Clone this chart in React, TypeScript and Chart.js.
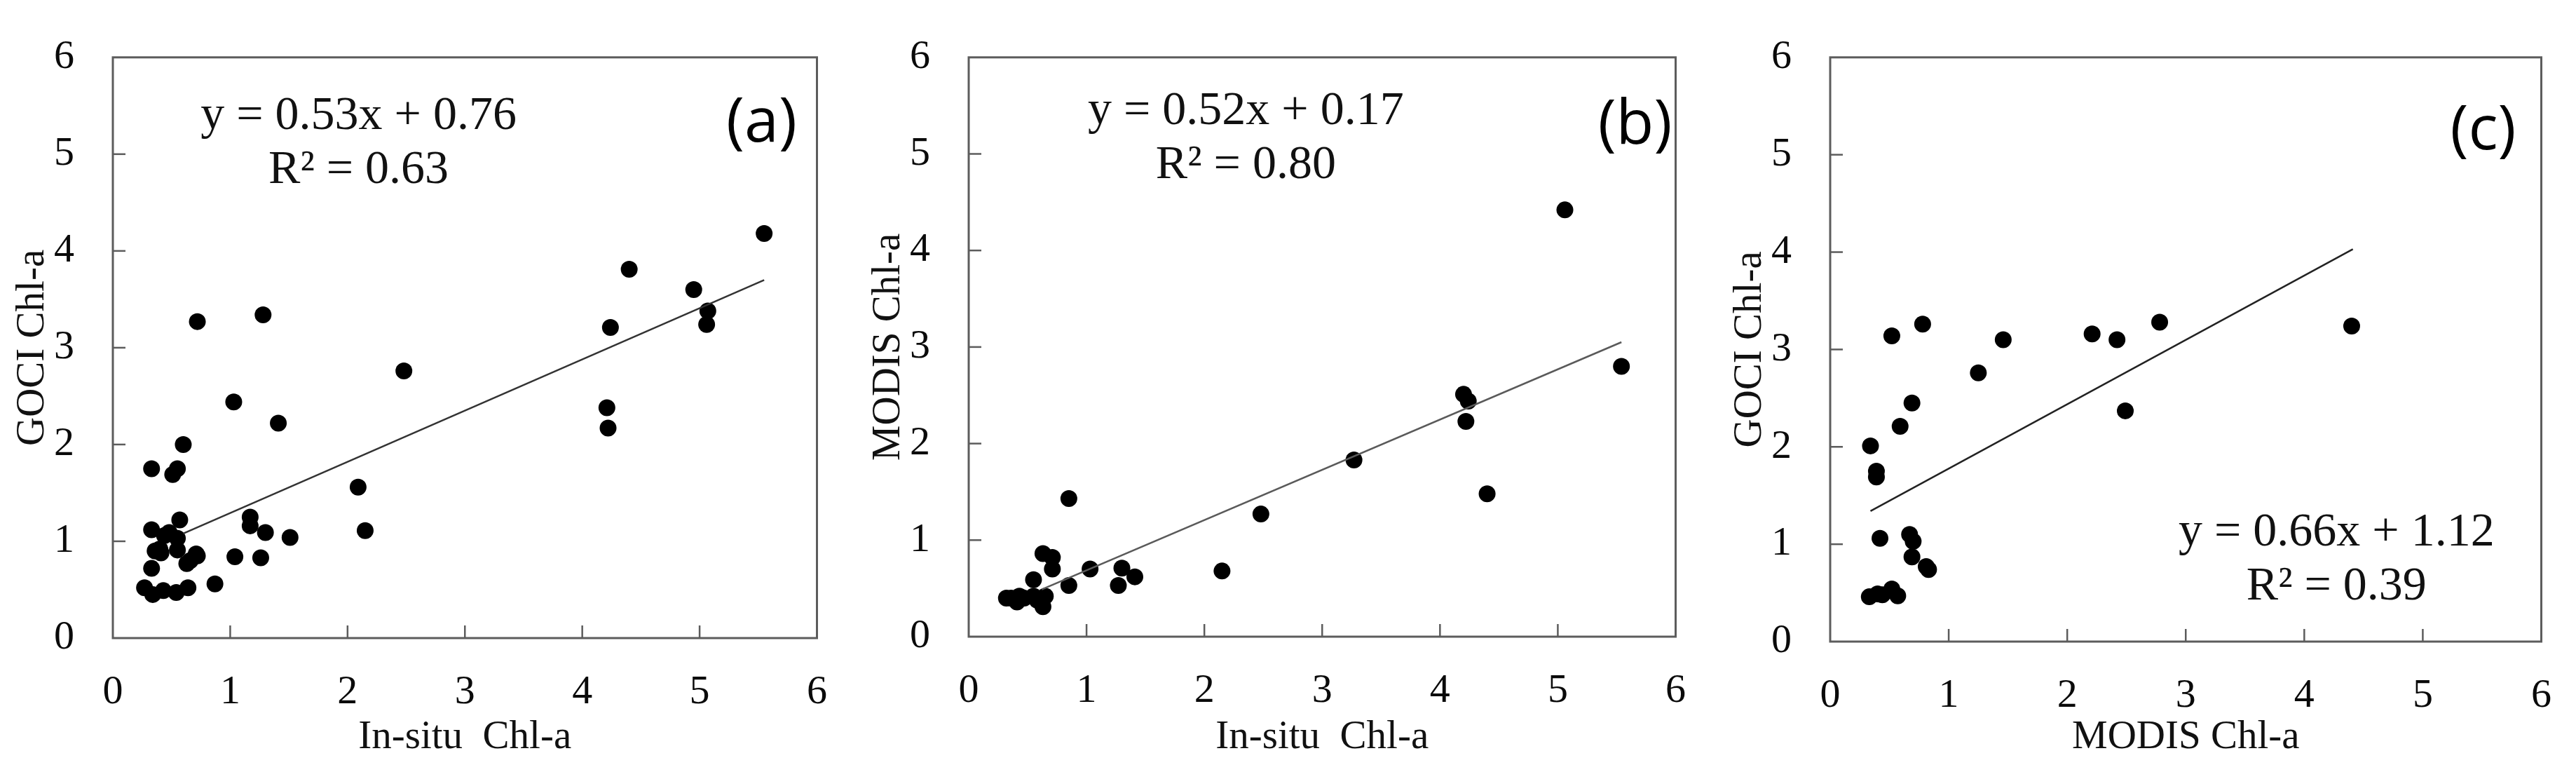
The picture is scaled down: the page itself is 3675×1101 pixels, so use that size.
import React, { useEffect, useRef } from "react";
import { Chart, registerables } from "chart.js";

Chart.register(...registerables);

// ---------- data ----------
const axisTicks = [1, 2, 3, 4, 5];

const aInsitu = [0.27, 0.34, 0.43, 0.54, 0.64, 0.87, 0.33, 0.36, 0.41, 0.40, 0.33, 0.44, 0.48, 0.55, 0.55, 0.57, 0.63, 0.66, 0.71, 0.72, 0.33, 0.51, 0.55, 0.60, 0.72, 1.03, 1.04, 1.17, 1.17, 1.26, 1.30, 1.28, 1.41, 1.51, 2.09, 2.15, 2.48, 4.21, 4.22, 4.24, 4.40, 4.95, 5.07, 5.06, 5.55];
const aGoci = [0.52, 0.45, 0.49, 0.47, 0.52, 0.56, 0.72, 0.90, 0.88, 0.92, 1.12, 1.06, 1.09, 1.03, 0.91, 1.22, 0.77, 0.80, 0.87, 0.85, 1.75, 1.69, 1.75, 2.00, 3.27, 2.44, 0.84, 1.25, 1.16, 0.83, 1.09, 3.34, 2.22, 1.04, 1.56, 1.11, 2.76, 2.38, 2.17, 3.21, 3.81, 3.60, 3.38, 3.24, 4.18];
const aFitX = [0.6, 5.55];
const aFitY = [1.08, 3.70];
const aEquation = ["y = 0.53x + 0.76", "R\u00b2 = 0.63"];

const bInsitu = [0.32, 0.36, 0.41, 0.43, 0.47, 0.55, 0.55, 0.58, 0.63, 0.65, 0.63, 0.71, 0.71, 0.85, 0.85, 1.03, 1.27, 1.30, 1.41, 2.15, 2.48, 3.27, 4.20, 4.24, 4.22, 4.40, 5.06, 5.54];
const bModis = [0.40, 0.40, 0.36, 0.42, 0.40, 0.59, 0.42, 0.38, 0.31, 0.42, 0.86, 0.82, 0.70, 0.53, 1.43, 0.70, 0.53, 0.71, 0.62, 0.68, 1.27, 1.83, 2.51, 2.44, 2.23, 1.48, 4.42, 2.80];
const bFitX = [0.62, 5.54];
const bFitY = [0.49, 3.05];
const bEquation = ["y = 0.52x + 0.17", "R\u00b2 = 0.80"];

const cModis = [0.33, 0.40, 0.44, 0.52, 0.57, 0.42, 0.67, 0.70, 0.69, 0.81, 0.83, 0.34, 0.39, 0.39, 0.59, 0.69, 0.52, 0.78, 1.25, 1.46, 2.21, 2.42, 2.49, 2.78, 4.40];
const cGoci = [0.46, 0.49, 0.48, 0.54, 0.47, 1.06, 1.10, 1.03, 0.87, 0.77, 0.74, 2.01, 1.75, 1.69, 2.21, 2.45, 3.14, 3.26, 2.76, 3.10, 3.16, 3.10, 2.37, 3.28, 3.24];
const cFitX = [0.34, 4.41];
const cFitY = [1.34, 4.03];
const cEquation = ["y = 0.66x + 1.12", "R\u00b2 = 0.39"];

const SERIF = '"Liberation Serif", "Times New Roman", serif';
const H = 1101;

type PanelProps = {
  left: number;
  width: number;
  plotLeft: number;
  plotRight: number;
  plotTop: number;
  plotBottom: number;
  xs: number[];
  ys: number[];
  fitX: number[];
  fitY: number[];
  fitColor: string;
  xTitle: string;
  yTitle: string;
  eq: string[];
  eqCx: number;
  eqB1: number;
  eqB2: number;
  label: string;
  labelDx: number;
  labelDy: number;
};

function Panel(p: PanelProps) {
  const ref = useRef<HTMLCanvasElement | null>(null);
  useEffect(() => {
    const canvas = ref.current;
    if (!canvas) return;
    const yAxisW = p.plotLeft - p.left;
    const xAxisH = H - p.plotBottom;
    const padRight = p.left + p.width - p.plotRight;

    const deco = {
      id: "deco" + p.label,
      afterDraw(chart: any) {
        const ctx = chart.ctx;
        const ca = chart.chartArea;
        const xs = chart.scales.x;
        const ys = chart.scales.y;
        ctx.save();
        ctx.strokeStyle = "#5c5c5c";
        ctx.lineWidth = 3;
        ctx.strokeRect(ca.left, ca.top, ca.right - ca.left, ca.bottom - ca.top);
        ctx.lineWidth = 2.5;
        for (const t of axisTicks) {
          const px = xs.getPixelForValue(t);
          ctx.beginPath();
          ctx.moveTo(px, ca.bottom);
          ctx.lineTo(px, ca.bottom - 18);
          ctx.stroke();
          const py = ys.getPixelForValue(t);
          ctx.beginPath();
          ctx.moveTo(ca.left, py);
          ctx.lineTo(ca.left + 18, py);
          ctx.stroke();
        }
        // equation
        ctx.fillStyle = "#111";
        ctx.font = `68px ${SERIF}`;
        ctx.textAlign = "center";
        ctx.textBaseline = "alphabetic";
        const cx = ca.left + (ca.right - ca.left) * p.eqCx;
        ctx.fillText(p.eq[0], cx, ca.top + p.eqB1);
        ctx.fillText(p.eq[1], cx, ca.top + p.eqB2);
        // panel label
        ctx.font = `88px "Open Sans", "Noto Sans", sans-serif`;
        ctx.textBaseline = "middle";
        ctx.fillStyle = "#000";
        ctx.fillText(p.label, ca.right - p.labelDx, ca.top + p.labelDy);
        ctx.restore();
      },
    };

    const chart = new Chart(canvas, {
      type: "scatter",
      data: {
        datasets: [
          {
            label: "fit",
            data: p.fitX.map((x, i) => ({ x, y: p.fitY[i] })),
            showLine: true,
            borderColor: p.fitColor,
            borderWidth: 2.5,
            pointRadius: 0,
            fill: false,
          },
          {
            label: "points",
            data: p.xs.map((x, i) => ({ x, y: p.ys[i] })),
            backgroundColor: "#000",
            borderWidth: 0,
            pointRadius: 12,
            pointHoverRadius: 12,
          },
        ],
      },
      options: {
        animation: false,
        responsive: false,
        devicePixelRatio: 1,
        events: [],
        layout: { padding: { left: 0, right: padRight, top: p.plotTop, bottom: 0 } },
        plugins: { legend: { display: false }, tooltip: { enabled: false } },
        scales: {
          x: {
            type: "linear",
            min: 0,
            max: 6,
            afterFit: (s: any) => {
              s.height = xAxisH;
            },
            grid: { display: false },
            border: { display: false },
            ticks: {
              stepSize: 1,
              padding: 35,
              color: "#0a0a0a",
              font: { family: SERIF, size: 58 },
            },
            title: {
              display: true,
              text: p.xTitle,
              color: "#111",
              font: { family: SERIF, size: 57 },
              padding: { top: 0, bottom: 15 },
            },
          },
          y: {
            type: "linear",
            min: 0,
            max: 6,
            afterFit: (s: any) => {
              s.width = yAxisW;
            },
            grid: { display: false },
            border: { display: false },
            ticks: {
              stepSize: 1,
              padding: 47,
              color: "#0a0a0a",
              font: { family: SERIF, size: 58 },
            },
            title: {
              display: true,
              text: p.yTitle,
              color: "#111",
              font: { family: SERIF, size: 57 },
              padding: { top: 13, bottom: 0 },
            },
          },
        },
      },
      plugins: [deco],
    } as any);
    return () => chart.destroy();
  }, []);
  return (
    <canvas
      ref={ref}
      width={p.width}
      height={H}
      style={{ position: "absolute", left: p.left, top: 0, width: p.width, height: H }}
    />
  );
}

export default function App() {
  return (
    <div style={{ position: "absolute", left: 0, top: 0, width: 3675, height: H, background: "#fff", overflow: "hidden" }}>
      <Panel
        left={0} width={1215} plotLeft={161} plotRight={1184} plotTop={48} plotBottom={910}
        xs={aInsitu} ys={aGoci} fitX={aFitX} fitY={aFitY} fitColor="#333"
        xTitle="In-situ  Chl-a" yTitle="GOCI Chl-a"
        eq={aEquation} eqCx={0.349} eqB1={102} eqB2={179}
        label="(a)" labelDx={79} labelDy={95}
      />
      <Panel
        left={1221} width={1219} plotLeft={1382} plotRight={2406} plotTop={46} plotBottom={908}
        xs={bInsitu} ys={bModis} fitX={bFitX} fitY={bFitY} fitColor="#5a5a5a"
        xTitle="In-situ  Chl-a" yTitle="MODIS Chl-a"
        eq={bEquation} eqCx={0.392} eqB1={95} eqB2={172}
        label="(b)" labelDx={58} labelDy={98}
      />
      <Panel
        left={2450} width={1225} plotLeft={2611} plotRight={3637} plotTop={49} plotBottom={915}
        xs={cModis} ys={cGoci} fitX={cFitX} fitY={cFitY} fitColor="#222"
        xTitle="MODIS Chl-a" yTitle="GOCI Chl-a"
        eq={cEquation} eqCx={0.712} eqB1={696} eqB2={773}
        label="(c)" labelDx={83} labelDy={106}
      />
    </div>
  );
}
